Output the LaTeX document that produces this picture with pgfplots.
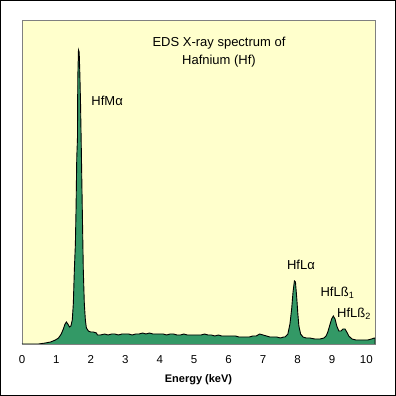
\documentclass[border=0pt]{standalone}
\usepackage{pgfplots}
\pgfplotsset{compat=1.18}
\usepackage{fontspec}
\setmainfont{Liberation Sans}
\definecolor{bgy}{HTML}{FFFFCC}
\definecolor{spec}{HTML}{339966}
\begin{document}
\begin{tikzpicture}
\begin{axis}[
  scale only axis, width=353pt, height=324pt,
  xmin=0, xmax=10.25, ymin=0, ymax=324,
  axis background/.style={fill=bgy},
  axis line style={gray, line width=0.8pt},
  xtick={0,1,...,10}, ytick=\empty,
  major tick length=0pt,
  xticklabel style={font=\fontsize{11.5}{13}\selectfont, yshift=-8pt},
  /pgf/number format/assume math mode=true,
  xlabel={\textbf{Energy (keV)}},
  xlabel style={font=\fontsize{11}{12}\selectfont, yshift=-4pt},
  clip=true,
]
\addplot[fill=spec, draw=black, line width=0.9pt] coordinates {
(0,0) (0.48,0) (0.68,1) (0.83,2) (0.97,4) (1.06,6) (1.14,10) (1.20,15) (1.25,20)
(1.29,22) (1.33,20) (1.38,17) (1.42,18) (1.46,24) (1.49,40) (1.52,74) (1.55,100)
(1.57,136) (1.59,186) (1.61,205) (1.62,266) (1.64,294) (1.66,292) (1.68,270)
(1.70,240) (1.72,200) (1.75,136) (1.78,74) (1.81,40) (1.84,24) (1.87,16) (1.93,13)
(1.99,12) (2.07,12) (2.16,11) (2.19,9) (2.28,9) (2.4,10) (2.5,9) (2.6,10) (2.7,10)
(2.8,9) (2.9,10) (3.0,10) (3.1,10) (3.2,9) (3.3,10) (3.4,10) (3.5,11) (3.6,10)
(3.7,11) (3.8,10) (3.9,10) (4.0,10) (4.1,10) (4.2,9) (4.3,10) (4.4,10) (4.5,9)
(4.6,9) (4.7,10) (4.8,9) (4.9,9) (5.0,9) (5.1,9) (5.2,9) (5.3,10) (5.4,9) (5.5,9)
(5.6,8) (5.7,9) (5.8,8) (5.9,8) (6.0,8) (6.1,8) (6.2,8) (6.3,7) (6.4,7) (6.5,7)
(6.6,7) (6.7,8) (6.8,8) (6.9,10) (7.0,9) (7.1,8) (7.2,7) (7.3,7) (7.4,7) (7.5,6)
(7.6,7) (7.64,7) (7.72,10) (7.78,20) (7.83,35) (7.87,52) (7.91,63) (7.94,62)
(7.98,45) (8.01,30) (8.04,18) (8.09,10) (8.16,7) (8.25,6) (8.36,6) (8.5,5)
(8.65,5) (8.77,6) (8.83,8) (8.88,12) (8.93,18) (8.99,25) (9.04,28) (9.09,25)
(9.14,18) (9.20,13) (9.26,13) (9.32,15) (9.38,15) (9.43,12) (9.49,8) (9.58,5)
(9.7,4) (9.81,4) (9.95,4) (10.04,4) (10.15,5) (10.23,6) (10.25,6) (10.25,0)
};
\node[font=\fontsize{13}{15}\selectfont] at (axis cs:5.72,301) {EDS X-ray spectrum of};
\node[font=\fontsize{13}{15}\selectfont] at (axis cs:5.72,283) {Hafnium (Hf)};
\node[font=\fontsize{13}{15}\selectfont, anchor=west, inner sep=0pt] at (axis cs:2.01,243) {HfMα};
\node[font=\fontsize{13}{15}\selectfont] at (axis cs:8.10,79) {HfLα};
\node[font=\fontsize{13}{15}\selectfont] at (axis cs:9.16,51) {HfLß\textsubscript{1}};
\node[font=\fontsize{13}{15}\selectfont] at (axis cs:9.64,30) {HfLß\textsubscript{2}};
\end{axis}
\draw[black, line width=1pt] ([shift={(-21.5pt,-51.5pt)}]current axis.south west) rectangle ([shift={(20.5pt,19.5pt)}]current axis.north east);
\end{tikzpicture}
\end{document}
